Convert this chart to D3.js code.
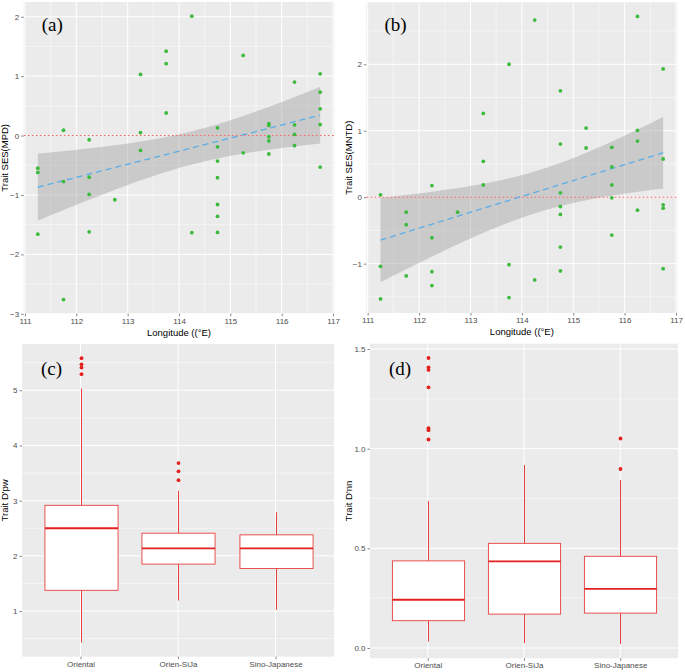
<!DOCTYPE html>
<html><head><meta charset="utf-8">
<script src="https://cdn.jsdelivr.net/npm/d3@7"></script>
<style>body{margin:0;background:#fff}svg{display:block}</style>
</head><body>
<script>
// ---- data ----
const longitudes = [111.25,111.75,112.25,112.75,113.25,113.75,114.25,114.75,115.25,115.75,116.25,116.75];
const mpdValues = [
  [-0.55,-0.62,-1.66],
  [0.09,-0.775,-2.76],
  [-0.07,-0.70,-0.99,-1.62],
  [-1.08],
  [1.03,0.05,-0.25],
  [1.42,1.21,0.38],
  [2.01,-1.635],
  [0.13,-0.19,-0.43,-0.71,-1.16,-1.36,-1.63],
  [1.35,-0.29],
  [0.20,0.17,-0.02,-0.09,-0.31],
  [0.90,0.18,0.02,-0.17],
  [1.04,0.73,0.45,0.185,-0.53]
];
const mntdValues = [
  [0.035,-1.04,-1.53],
  [-0.225,-0.415,-1.185],
  [0.175,-0.61,-1.12,-1.33],
  [-0.225],
  [1.26,0.54,0.185],
  [2.0,-1.015,-1.51],
  [2.665,-1.245],
  [1.6,0.80,0.065,-0.14,-0.26,-0.75,-1.11],
  [1.04,0.74],
  [0.75,0.455,0.185,-0.01,-0.57],
  [2.72,1.005,0.845,-0.195],
  [1.93,0.575,-0.115,-0.165,-1.075]
];
const xTicks = [111,112,113,114,115,116,117];
const groups = ["Oriental","Orien-SiJa","Sino-Japanese"];
// box stats: [lowerWhisker, q1, median, q3, upperWhisker]
const dpwBoxes = [[0.43,1.375,2.50,2.915,5.03],[1.19,1.85,2.135,2.41,3.18],[1.02,1.77,2.135,2.38,2.79]];
const dpwOutliers = [[5.58,5.47,5.41,5.29],[3.68,3.53,3.37],[]];
const dnnBoxes = [[0.032,0.137,0.242,0.437,0.737],[0.024,0.17,0.435,0.525,0.918],[0.02,0.175,0.297,0.46,0.843]];
const dnnOutliers = [[1.455,1.408,1.395,1.308,1.103,1.093,1.046],[],[1.051,0.898]];
const tCrit = 2.021; // t(0.975, df=40)

// ---- drawing ----
const W=685,H=672;
const svg=d3.select("body").append("svg").attr("width",W).attr("height",H);
const BG="#EBEBEB", GRID="#FFFFFF", TXT="#4D4D4D";
const tickFont="Liberation Sans, Arial, sans-serif";

function panelBase(x0,x1,y0,y1){
  svg.append("rect").attr("x",x0).attr("y",y0).attr("width",x1-x0).attr("height",y1-y0).attr("fill",BG);
}
function expand(ext,f){const r=ext[1]-ext[0];return [ext[0]-r*f,ext[1]+r*f];}

function yAxisDraw(y,x0,x1,ticks,minors,fmt){
  const g=svg.append("g");
  g.selectAll("line.mn").data(minors).join("line").attr("x1",x0).attr("x2",x1)
   .attr("y1",d=>y(d)).attr("y2",d=>y(d)).attr("stroke",GRID).attr("stroke-width",0.5);
  g.selectAll("line.mj").data(ticks).join("line").attr("x1",x0).attr("x2",x1)
   .attr("y1",d=>y(d)).attr("y2",d=>y(d)).attr("stroke",GRID).attr("stroke-width",1);
  const ax=svg.append("g").attr("transform",`translate(${x0},0)`)
    .call(d3.axisLeft(y).tickValues(ticks).tickSize(2.5).tickPadding(2).tickFormat(fmt));
  ax.select(".domain").remove();
  ax.selectAll("line").attr("stroke","#333").attr("stroke-width",0.6);
  ax.selectAll("text").attr("fill",TXT).attr("font-family",tickFont).attr("font-size",8);
}
function xAxisDraw(x,y0,y1,ticks,minors,fmt){
  const g=svg.append("g");
  g.selectAll("line.mn").data(minors).join("line").attr("y1",y0).attr("y2",y1)
   .attr("x1",d=>x(d)).attr("x2",d=>x(d)).attr("stroke",GRID).attr("stroke-width",0.5);
  g.selectAll("line.mj").data(ticks).join("line").attr("y1",y0).attr("y2",y1)
   .attr("x1",d=>x(d)).attr("x2",d=>x(d)).attr("stroke",GRID).attr("stroke-width",1);
  const ax=svg.append("g").attr("transform",`translate(0,${y1})`)
    .call(d3.axisBottom(x).tickValues(ticks).tickSize(2.5).tickPadding(2).tickFormat(fmt));
  ax.select(".domain").remove();
  ax.selectAll("line").attr("stroke","#333").attr("stroke-width",0.6);
  ax.selectAll("text").attr("fill",TXT).attr("font-family",tickFont).attr("font-size",8);
}
function label(txt,x,y){
  svg.append("text").attr("x",x).attr("y",y).text(txt)
    .attr("font-family","Liberation Serif, Times New Roman, serif").attr("font-size",19).attr("fill","#000");
}
function yTitle(txt,x,y){
  svg.append("text").attr("transform",`translate(${x},${y}) rotate(-90)`).attr("text-anchor","middle")
   .text(txt).attr("font-family",tickFont).attr("font-size",9.5).attr("fill","#000");
}
function xTitle(txt,x,y){
  svg.append("text").attr("x",x).attr("y",y).attr("text-anchor","middle")
   .text(txt).attr("font-family",tickFont).attr("font-size",9.5).attr("fill","#000");
}

function scatterPanel(vals,box,yTicks,yMinors,lab,ytitle,tx){
  const pts=[];longitudes.forEach((lo,i)=>vals[i].forEach(v=>pts.push([lo,v])));
  const x=d3.scaleLinear().domain(expand(d3.extent(pts,d=>d[0]),0.05)).range([box.x0,box.x1]);
  const y=d3.scaleLinear().domain(expand(d3.extent(pts,d=>d[1]),0.05)).range([box.y1,box.y0]);
  panelBase(box.x0,box.x1,box.y0,box.y1);
  yAxisDraw(y,box.x0,box.x1,yTicks,yMinors,d3.format("d"));
  xAxisDraw(x,box.y0,box.y1,xTicks,xTicks.slice(0,-1).map(d=>d+0.5),d3.format("d"));
  // linear fit (geom_smooth lm)
  const n=pts.length,mx=d3.mean(pts,d=>d[0]),my=d3.mean(pts,d=>d[1]);
  const sxx=d3.sum(pts,d=>(d[0]-mx)**2), sxy=d3.sum(pts,d=>(d[0]-mx)*(d[1]-my));
  const b=sxy/sxx,a=my-b*mx;
  const s=Math.sqrt(d3.sum(pts,d=>(d[1]-a-b*d[0])**2)/(n-2));
  const xs=d3.range(0,81).map(i=>longitudes[0]+(longitudes[longitudes.length-1]-longitudes[0])*i/80);
  const band=xs.map(xx=>{const f=a+b*xx,se=s*Math.sqrt(1/n+(xx-mx)**2/sxx);return {x:xx,f,lo:f-tCrit*se,hi:f+tCrit*se};});
  svg.append("path").datum(band).attr("d",d3.area().x(d=>x(d.x)).y0(d=>y(d.lo)).y1(d=>y(d.hi)))
    .attr("fill","#999999").attr("fill-opacity",0.4);
  // zero line
  svg.append("line").attr("x1",box.x0).attr("x2",box.x1).attr("y1",y(0)).attr("y2",y(0))
    .attr("stroke","#F07070").attr("stroke-width",1.1).attr("stroke-dasharray","2,2");
  svg.append("path").datum(band).attr("d",d3.line().x(d=>x(d.x)).y(d=>y(d.f)))
    .attr("fill","none").attr("stroke","#5AAEE8").attr("stroke-width",1.3).attr("stroke-dasharray","6,4");
  svg.append("g").selectAll("circle").data(pts).join("circle")
    .attr("cx",d=>x(d[0])).attr("cy",d=>y(d[1])).attr("r",1.9).attr("fill","#3EBB3E");
  label(lab,box.x0+18,box.y0+29);
  yTitle(ytitle,tx,(box.y0+box.y1)/2);
  xTitle("Longitude ((°E)",(box.x0+box.x1)/2,box.y1+22);
}

function boxPanel(stats,outs,box,yTicks,yMinors,fmt,lab,ytitle,tx){
  const x=d3.scalePoint().domain(groups).range([box.x0,box.x1]).padding(0.6);
  const step=x.step();
  const allv=stats.flat().concat(outs.flat());
  const y=d3.scaleLinear().domain(expand(d3.extent(allv),0.05)).range([box.y1,box.y0]);
  panelBase(box.x0,box.x1,box.y0,box.y1);
  yAxisDraw(y,box.x0,box.x1,yTicks,yMinors,fmt);
  xAxisDraw(x,box.y0,box.y1,groups,[],d=>d);
  const RED="#E8403F", bw=step*0.75;
  groups.forEach((gname,i)=>{
    const [lw,q1,md,q3,uw]=stats[i], cx=Math.round(x(gname))+0.5;
    const g=svg.append("g");
    g.append("line").attr("x1",cx).attr("x2",cx).attr("y1",y(uw)).attr("y2",y(q3)).attr("stroke",RED).attr("stroke-width",1);
    g.append("line").attr("x1",cx).attr("x2",cx).attr("y1",y(q1)).attr("y2",y(lw)).attr("stroke",RED).attr("stroke-width",1);
    g.append("rect").attr("x",cx-bw/2).attr("width",bw).attr("y",y(q3)).attr("height",y(q1)-y(q3))
      .attr("fill","#fff").attr("stroke",RED).attr("stroke-width",0.9);
    g.append("line").attr("x1",cx-bw/2).attr("x2",cx+bw/2).attr("y1",y(md)).attr("y2",y(md)).attr("stroke","#E3201F").attr("stroke-width",1.8);
    g.selectAll("circle").data(outs[i]).join("circle").attr("cx",cx).attr("cy",d=>y(d)).attr("r",1.9).attr("fill","#E3201F");
  });
  label(lab,box.x0+19,box.y0+31);
  yTitle(ytitle,tx,(box.y0+box.y1)/2);
}

scatterPanel(mpdValues,{x0:23.7,x1:334.3,y0:2,y1:313.7},[-3,-2,-1,0,1,2],[-2.5,-1.5,-0.5,0.5,1.5],"(a)","Trait SES(MPD)",8);
scatterPanel(mntdValues,{x0:366.4,x1:677.3,y0:2.3,y1:313},[-1,0,1,2],[-1.5,-0.5,0.5,1.5,2.5],"(b)","Trait SES(MNTD)",352);
boxPanel(dpwBoxes,dpwOutliers,{x0:22,x1:334,y0:344,y1:656.7},[1,2,3,4,5],[0.5,1.5,2.5,3.5,4.5,5.5],d3.format("d"),"(c)","Trait D'pw",8);
boxPanel(dnnBoxes,dnnOutliers,{x0:370,x1:678,y0:343.7,y1:658.3},[0,0.5,1.0,1.5],[0.25,0.75,1.25],d3.format(".1f"),"(d)","Trait D'nn",352);
</script>
</body></html>
